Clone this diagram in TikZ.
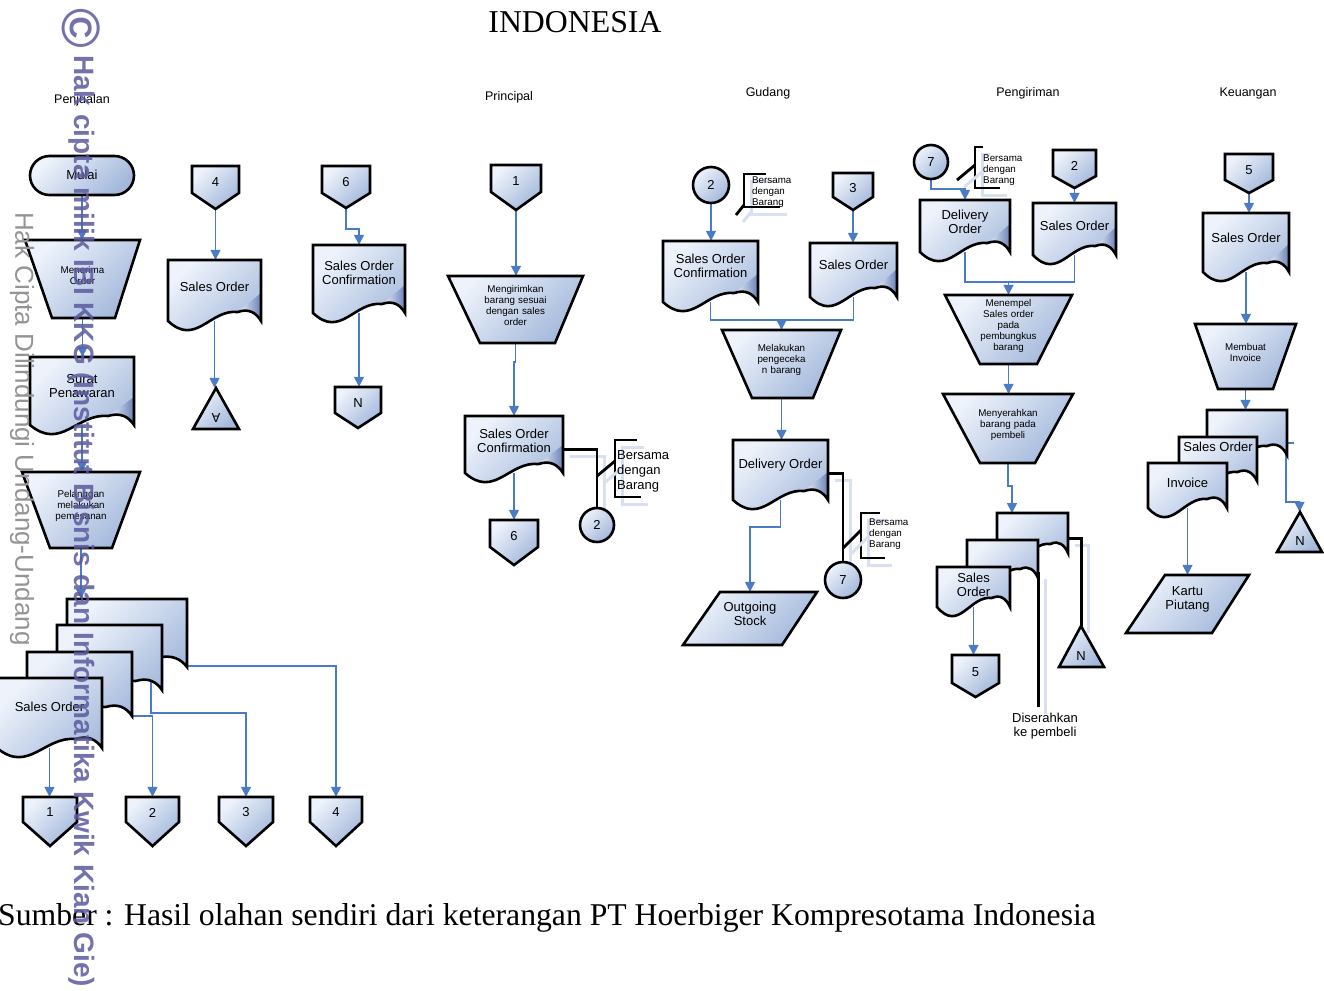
\documentclass[tikz,border=0pt]{standalone}
\usepackage{fontspec}
\setmainfont{Liberation Serif}
\newfontfamily\arial{Liberation Sans}
\usetikzlibrary{arrows.meta,fit}
\pgfdeclarelayer{shadowlayer}
\pgfdeclarelayer{shapelayer}
\pgfdeclarelayer{marklayer}
\pgfsetlayers{shadowlayer,main,shapelayer,marklayer}
\definecolor{fillA}{HTML}{EEF3FB}
\definecolor{fillB}{HTML}{A3B8DB}
\definecolor{shadc}{HTML}{D8E0F1}
\definecolor{conn}{HTML}{4A7CC6}
\definecolor{foldc}{HTML}{6A82B6}
\definecolor{wmc}{HTML}{5B5A9E}
\tikzset{
 shp/.style={draw=black, line width=2.6pt, line join=miter, top color=fillA, bottom color=fillB, shading angle=45},
 brd/.style={draw=black, line width=2.6pt, line join=miter},
 nbox/.style={inner sep=0pt, draw=none},
 txt/.style={font=\arial\fontsize{13}{14.5}\selectfont, align=center, inner sep=0pt},
 stxt/.style={font=\arial\fontsize{9.8}{11}\selectfont, align=center, inner sep=0pt},
 hdr/.style={font=\arial\fontsize{12.5}{14}\selectfont, inner sep=0pt},
 flow/.style={draw=conn, line width=1.6pt},
 arr/.style={flow, -{Triangle[length=10pt,width=10pt]}},
 blk/.style={draw=black, line width=2.8pt, preaction={draw=shadc, line width=3pt, transform canvas={shift={(7pt,-7pt)}}}},
}
\newcommand\docout{(\dL,\dT) -- (\dR,\dT) -- (\dR,\dB) .. controls ({\dR-0.05*(\dR-\dL)},{\dB-8}) and ({\dL+0.87*(\dR-\dL)},{\dB-13}) .. ({\dL+0.75*(\dR-\dL)},{\dB-9}) .. controls ({\dL+0.45*(\dR-\dL)},{\dB-12}) and ({\dL+0.3*(\dR-\dL)},{\dB+26}) .. (\dL,\dB) -- cycle}
% document with folded corner: name L T R B texty text
\newcommand\DocF[7]{%
 \def\dL{#2}\def\dT{#3}\def\dR{#4}\def\dB{#5}%
 \begin{pgfonlayer}{shadowlayer}\fill[shadc,shift={(7,7)}] \docout;\end{pgfonlayer}%
 \begin{pgfonlayer}{shapelayer}%
  \path[top color=fillA, bottom color=fillB, shading angle=45] \docout;
  \path[left color=fillA, right color=foldc] ({\dL+0.75*(\dR-\dL)},{\dB-9}) -- (\dR,{\dB-28}) -- (\dR,\dB) .. controls ({\dR-0.05*(\dR-\dL)},{\dB-8}) and ({\dL+0.87*(\dR-\dL)},{\dB-13}) .. ({\dL+0.75*(\dR-\dL)},{\dB-9}) -- cycle;
  \path[brd] \docout;
  \node[nbox, fit={(\dL,\dT)(\dR,\dB)}] (#1) {};
  \node[txt] (#1-t) at ({(\dL+\dR)/2},#6) {#7};
 \end{pgfonlayer}}
% plain document (stack)
\newcommand\DocP[7]{%
 \def\dL{#2}\def\dT{#3}\def\dR{#4}\def\dB{#5}%
 \begin{pgfonlayer}{shadowlayer}\fill[shadc,shift={(7,7)}] \docout;\end{pgfonlayer}%
 \begin{pgfonlayer}{shapelayer}%
  \path[shp] \docout;
  \node[nbox, fit={(\dL,\dT)(\dR,\dB)}] (#1) {};
  \node[txt] (#1-t) at ({(\dL+\dR)/2},#6) {#7};
 \end{pgfonlayer}}
% quadrilateral: name TLx TRx T BLx BRx B style text
\newcommand\Quad[9]{%
 \begin{pgfonlayer}{shadowlayer}\fill[shadc,shift={(7,7)}] (#2,#4) -- (#3,#4) -- (#6,#7) -- (#5,#7) -- cycle;\end{pgfonlayer}%
 \begin{pgfonlayer}{shapelayer}%
  \path[shp] (#2,#4) -- (#3,#4) -- (#6,#7) -- (#5,#7) -- cycle;
  \node[nbox, fit={(#2,#4)(#3,#4)(#5,#7)(#6,#7)}, #8] (#1) {#9};
 \end{pgfonlayer}}
% off-page connector: name L R T S Tip text
\newcommand\Off[7]{%
 \begin{pgfonlayer}{shadowlayer}\fill[shadc,shift={(7,7)}] (#2,#4) -- (#3,#4) -- (#3,#5) -- ({(#2+#3)/2},#6) -- (#2,#5) -- cycle;\end{pgfonlayer}%
 \begin{pgfonlayer}{shapelayer}%
  \path[shp] (#2,#4) -- (#3,#4) -- (#3,#5) -- ({(#2+#3)/2},#6) -- (#2,#5) -- cycle;
  \node[nbox, fit={(#2,#4)(#3,#6)}] (#1) {};
  \node[txt] (#1-t) at ({(#2+#3)/2},{(#4+#5)/2+3}) {#7};
 \end{pgfonlayer}}
% circle: name cx cy r text
\newcommand\Circ[5]{%
 \begin{pgfonlayer}{shadowlayer}\fill[shadc] ({#2+6},{#3+6}) circle[radius=#4];\end{pgfonlayer}%
 \begin{pgfonlayer}{shapelayer}%
  \path[shp] (#2,#3) circle[radius=#4];
  \node[nbox, fit={({#2-#4},{#3-#4})({#2+#4},{#3+#4})}] (#1) {};
  \node[txt] (#1-t) at (#2,#3) {#5};
 \end{pgfonlayer}}
% triangle: name apexx apexy baseL baseR baseY text rotation
\newcommand\Tri[8]{%
 \begin{pgfonlayer}{shadowlayer}\fill[shadc,shift={(7,7)}] (#2,#3) -- (#5,#6) -- (#4,#6) -- cycle;\end{pgfonlayer}%
 \begin{pgfonlayer}{shapelayer}%
  \path[shp] (#2,#3) -- (#5,#6) -- (#4,#6) -- cycle;
  \node[nbox, fit={(#4,#3)(#5,#6)}] (#1) {};
  \node[txt, rotate=#8] (#1-t) at (#2,{#6-11}) {#7};
 \end{pgfonlayer}}
\begin{document}
\begin{tikzpicture}[x=1pt,y=-1pt]
\useasboundingbox (0,0) rectangle (1324,990);
\fill[white] (0,0) rectangle (1324,990);
% titles
\node[font=\fontsize{31.8}{34}\selectfont, anchor=base, inner sep=0] (title) at (575,33) {INDONESIA};
\node[font=\fontsize{31.7}{34}\selectfont, anchor=base west, inner sep=0] (src) at (-2,925) {Sumber : Hasil olahan sendiri dari keterangan PT Hoerbiger Kompresotama Indonesia};
\node[hdr] (h1) at (82,100) {Penjualan};
\node[hdr] (h2) at (509,97) {Principal};
\node[hdr] (h3) at (768,93) {Gudang};
\node[hdr] (h4) at (1028,93) {Pengiriman};
\node[hdr] (h5) at (1248,93) {Keuangan};

% ===== Penjualan =====
\begin{pgfonlayer}{shadowlayer}\fill[shadc, rounded corners=19.5pt] (37,163) rectangle (141,202);\end{pgfonlayer}
\begin{pgfonlayer}{shapelayer}
\path[shp, rounded corners=19.5pt] (30,156) rectangle (134,195);
\node[nbox, fit={(30,156)(134,195)}] (mulai) {};
\node[txt] (mulai-t) at (82,175) {Mulai};
\end{pgfonlayer}
\Quad{menerima}{25}{140}{240}{52}{115}{318}{stxt}{Menerima\\Order}
\DocF{surat}{30}{357}{134}{425}{386}{Surat\\Penawaran}
\Quad{pelanggan}{22}{140}{472}{50}{112}{548}{stxt}{Pelanggan\\melakukan\\pemesanan}
\DocP{stA}{67}{599}{187}{667}{633}{}
\DocP{stB}{57}{625}{162}{690}{657}{}
\DocP{stC}{27}{652}{132}{716}{684}{}
\DocP{stD}{-3}{678}{102}{748}{707}{Sales Order}
\Off{oc1}{23}{77}{797}{822}{846}{1}
\Off{oc2}{126}{179}{797}{822}{846}{2}
\Off{oc3}{219}{273}{797}{822}{846}{3}
\Off{oc4}{310}{362}{797}{822}{846}{4}
\draw[arr] (mulai.south) -- (mulai.south |- menerima.north);
\draw[arr] (menerima.south) -- (menerima.south |- surat.north);
\draw[arr] (surat.south) -- (surat.south |- pelanggan.north);
\draw[arr] (pelanggan.south) -- (pelanggan.south |- stA.north);
\draw[arr] (stD.south) -- (stD.south |- oc1.north);
\draw[arr] (stC.south east) -| (oc2.north);
\coordinate (stB-out) at ([xshift=-11pt,yshift=10pt]stB.south east);
\draw[arr] (stB-out) -- ++(0,33) -| (oc3.north);
\coordinate (stA-out) at ([xshift=-1pt,yshift=20pt]stA.south east);
\draw[arr] (stA-out) -- ++(0,19) -| (oc4.north);

% ===== column 2 and 3 =====
\Off{oc4b}{192}{239}{166}{193}{209}{4}
\DocF{so4}{168}{260}{261}{321}{287}{Sales Order}
\Tri{triA}{216}{388}{193}{239}{429}{A}{180}
\draw[arr] (oc4b.south) -- (oc4b.south |- so4.north);
\draw[arr] (so4.south) -- (so4.south |- triA.north);
\Off{oc6}{322}{370}{166}{193}{208}{6}
\DocF{soc6}{313}{245}{405}{313}{273}{Sales Order\\Confirmation}
\Off{ocN}{335}{381}{387}{413}{428}{N}
\draw[arr] (oc6.south) -- ++(0,21) -| (soc6.north);
\draw[arr] (soc6.south) -- (soc6.south |- ocN.north);

% ===== Principal =====
\Off{ocP1}{491}{541}{165}{192}{210}{1}
\Quad{kirim}{448}{583}{276}{480}{555}{343}{stxt}{Mengirimkan\\barang sesuai\\dengan sales\\order}
\DocF{socP}{465}{416}{563}{473}{441}{Sales Order\\Confirmation}
\Off{ocP6}{490}{538}{520}{547}{565}{6}
\Circ{o2a}{597}{525}{17}{2}
\draw[arr] (ocP1.south) -- (ocP1.south |- kirim.north);
\draw[arr] (kirim.south) -- ++(0,19) -| (socP.north);
\draw[arr] (socP.south) -- (socP.south |- ocP6.north);
\draw[blk] ([yshift=24pt]socP.south east) -| (o2a.north);
\draw[blk] (637,440) -- (615,440) -- (615,497) -- (641,497);
\draw[blk] (597,476) -- (615,461);
\node[txt, anchor=west, align=left, font=\arial\fontsize{13}{15}\selectfont] (ann1) at (617,471) {Bersama\\dengan\\Barang};

% ===== Gudang =====
\Circ{o2b}{711}{185}{18}{2}
\Off{oc3b}{833}{873}{173}{197}{210}{3}
\DocF{socG}{663}{241}{758}{302}{266}{Sales Order\\Confirmation}
\DocF{soG}{810}{243}{897}{297}{265}{Sales Order}
\Quad{cek}{722}{841}{330}{752}{813}{398}{stxt}{Melakukan\\pengeceka\\n barang}
\DocF{doG}{733}{440}{828}{500}{465}{Delivery Order}
\Quad{outst}{720}{817}{592}{683}{782}{645}{txt}{Outgoing\\Stock}
\Circ{o7a}{843}{580}{18}{7}
\draw[arr] (o2b.south) -- (o2b.south |- socG.north);
\draw[arr] (oc3b.south) -- (oc3b.south |- soG.north);
\draw[flow] (socG.south) -- ++(0,18) coordinate (gj) -| (soG.south);
\draw[arr] (cek.north |- gj) -- (cek.north);
\draw[arr] (cek.south) -- (cek.south |- doG.north);
\draw[arr] (doG.south) -- ++(0,27) -| (outst.north);
\draw[blk] ([yshift=27pt]doG.south east) -| (o7a.north);
\draw[blk] (766,174) -- (744,174) -- (744,207) -- (780,207);
\draw[blk] (736,215) -- (744,205);
\node[stxt, anchor=west, align=left] (ann2) at (752,192) {Bersama\\dengan\\Barang};
\draw[blk] (880,513) -- (861,513) -- (861,558) -- (885,558);
\draw[blk] (843,548) -- (861,530);
\node[stxt, anchor=west, align=left] (ann3) at (869,534) {Bersama\\dengan\\Barang};

% ===== Pengiriman =====
\Circ{o7b}{931}{162}{17}{7}
\Off{oc2b}{1053}{1096}{150}{176}{188}{2}
\DocF{doP}{920}{200}{1010}{252}{222}{Delivery\\Order}
\DocF{soP}{1033}{203}{1116}{255}{226}{Sales Order}
\Quad{tempel}{945}{1072}{295}{980}{1037}{364}{stxt}{Menempel\\Sales order\\pada\\pembungkus\\barang}
\Quad{serah}{943}{1073}{394}{980}{1035}{463}{stxt}{Menyerahkan\\barang pada\\pembeli}
\DocP{spA}{997}{513}{1068}{553}{530}{}
\DocP{spB}{967}{540}{1038}{578}{557}{}
\DocP{spC}{937}{567}{1010}{607}{585}{Sales\\Order}
\Off{oc5a}{952}{999}{655}{683}{697}{5}
\Tri{triN1}{1081}{626}{1059}{1104}{667}{N}{0}
\node[txt] (diser) at (1045,726) {Diserahkan\\ke pembeli};
\coordinate (spA-in) at (1012,513);
\draw[arr] (o7b.south) -- ++(0,10) -| (doP.north);
\draw[arr] (oc2b.south) -- (oc2b.south |- soP.north);
\draw[flow] (doP.south) -- ++(0,30) coordinate (pj) -| (soP.south);
\draw[arr] (tempel.north |- pj) -- (tempel.north);
\draw[arr] (tempel.south) -- (tempel.south |- serah.north);
\draw[arr] (serah.south) -- ++(0,23) -| (spA-in);
\draw[arr] (spC.south) -- (spC.south |- oc5a.north);
\draw[blk] ([yshift=15pt]spA.south east) -| (triN1.north);
\draw[blk] ([yshift=6pt]spB.south east) -- ([yshift=6pt]spB.south east |- diser.north);
\draw[blk] (983,147) -- (975,147) -- (975,188) -- (1000,188);
\draw[blk] (957,180) -- (975,165);
\node[stxt, anchor=west, align=left] (ann4) at (983,170) {Bersama\\dengan\\Barang};

% ===== Keuangan =====
\Off{oc5b}{1225}{1273}{154}{180}{193}{5}
\DocF{soK}{1203}{213}{1289}{272}{238}{Sales Order}
\Quad{inv}{1195}{1296}{324}{1218}{1273}{389}{stxt}{Membuat\\Invoice}
\DocP{skA}{1207}{410}{1287}{455}{430}{}
\DocP{skB}{1179}{437}{1257}{481}{447}{Sales Order}
\DocP{skC}{1148}{463}{1227}{508}{483}{Invoice}
\Quad{kartu}{1165}{1249}{575}{1126}{1212}{633}{txt}{Kartu\\Piutang}
\Tri{triN2}{1300}{512}{1277}{1322}{552}{N}{0}
\draw[arr] (oc5b.south) -- (oc5b.south |- soK.north);
\draw[arr] (soK.south) -- (soK.south |- inv.north);
\draw[arr] (inv.south) -- (inv.south |- skA.north);
\draw[arr] (skC.south) -- (skC.south |- kartu.north);
\draw[arr] ([xshift=7pt,yshift=12pt]skA.south east) -- ++(-8,0) -- ++(0,59) -| (triN2.north);

% ===== watermark =====
\begin{pgfonlayer}{marklayer}
\node[rotate=-90, inner sep=0, font=\arial\bfseries\fontsize{54}{54}\selectfont, text=wmc, opacity=0.85] (wmcopy) at (81,28) {©};
\node[rotate=-90, anchor=west, inner sep=0, font=\arial\bfseries\fontsize{28}{30}\selectfont, text=wmc, opacity=0.85] (wm) at (82,55) {Hak cipta milik IBI KKG (Institut Bisnis dan Informatika Kwik Kian Gie)};
\node[rotate=-90, anchor=west, inner sep=0, font=\arial\fontsize{26}{28}\selectfont, text=black!42] (hcd) at (22,212) {Hak Cipta Dilindungi Undang-Undang};
\end{pgfonlayer}
\end{tikzpicture}
\end{document}
